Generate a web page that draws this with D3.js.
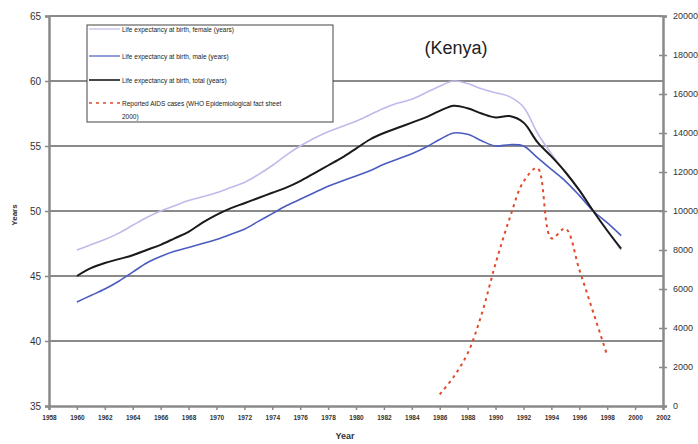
<!DOCTYPE html>
<html><head><meta charset="utf-8">
<script src="https://cdn.jsdelivr.net/npm/d3@7"></script>
<style>
html,body{margin:0;padding:0;background:#fff;}
svg{display:block;font-family:Arial,"Liberation Sans",sans-serif;}
</style></head>
<body><svg id="chart" width="698" height="444"></svg>
<script>
const years = d3.range(1960, 2000);
const female = [47.0,47.4,47.8,48.3,48.9,49.5,50.0,50.4,50.8,51.1,51.4,51.8,52.2,52.8,53.5,54.3,55.0,55.6,56.1,56.5,56.9,57.4,57.9,58.3,58.6,59.1,59.6,60.0,59.8,59.4,59.1,58.8,58.0,56.0,54.4,53.0,51.6,50.0,48.5,47.0];
const male = [43.0,43.5,44.0,44.6,45.3,46.0,46.5,46.9,47.2,47.5,47.8,48.2,48.6,49.2,49.8,50.4,50.9,51.4,51.9,52.3,52.7,53.1,53.6,54.0,54.4,54.9,55.5,56.0,55.9,55.4,55.0,55.1,55.0,54.1,53.2,52.3,51.2,50.0,49.1,48.1];
const total = [45.0,45.6,46.0,46.3,46.6,47.0,47.4,47.9,48.4,49.1,49.7,50.2,50.6,51.0,51.4,51.8,52.3,52.9,53.5,54.1,54.8,55.5,56.0,56.4,56.8,57.2,57.7,58.1,57.9,57.5,57.2,57.3,56.8,55.3,54.2,53.0,51.6,50.0,48.5,47.1];
const aidsYears = d3.range(1986, 1999);
const aids = [600,1500,2700,4700,7300,9600,11500,12200,8600,9100,7000,4800,2600];
const xTicks = d3.range(1958, 2003, 2);
const yLeftTicks = [35,40,45,50,55,60,65];
const yRightTicks = d3.range(0, 20001, 2000);
const legendLabels = ["Life expectancy at birth, female (years)","Life expectancy at birth, male (years)","Life expectancy at birth, total (years)","Reported AIDS cases (WHO Epidemiological fact sheet","2000)"];

const svg = d3.select("#chart");
const L = 49, R = 663, T = 16, B = 406;
const x = d3.scaleLinear().domain([1958, 2002]).range([L, R]);
const y = d3.scaleLinear().domain([35, 65]).range([B, T]);
const y2 = d3.scaleLinear().domain([0, 20000]).range([B, T]);
const axisCol = "#8a8a8a", txt = "#333";

// gridlines
svg.append("g").selectAll("line").data(yLeftTicks.slice(1)).join("line")
  .attr("x1", L).attr("x2", R).attr("y1", d => y(d)).attr("y2", d => y(d))
  .attr("stroke", axisCol).attr("stroke-width", 2);

// axes
const gl = svg.append("g").attr("transform", `translate(${L},0)`)
  .call(d3.axisLeft(y).tickValues(yLeftTicks).tickSize(4).tickPadding(4));
const gr = svg.append("g").attr("transform", `translate(${R},0)`)
  .call(d3.axisRight(y2).tickValues(yRightTicks).tickSize(4).tickPadding(6).tickFormat(d3.format("d")));
const gb = svg.append("g").attr("transform", `translate(0,${B})`)
  .call(d3.axisBottom(x).tickValues(xTicks).tickSize(4).tickPadding(5).tickFormat(d3.format("d")));
[gl, gr, gb].forEach(g => {
  g.select(".domain").attr("stroke", axisCol).attr("stroke-width", 2.5);
  g.selectAll(".tick line").attr("stroke", axisCol).attr("stroke-width", 1.5);
  g.selectAll(".tick text").attr("fill", txt).style("font-family", "Arial, sans-serif");
});
gl.selectAll(".tick text").style("font-size", "10px");
gr.selectAll(".tick text").style("font-size", "9px");
gr.selectAll(".tick line").attr("x1", -4);
gb.selectAll(".tick text").style("font-size", "6.5px").style("font-weight", "bold");

// axis titles
svg.append("text").attr("x", 345).attr("y", 439).attr("text-anchor", "middle")
  .style("font-size", "9px").style("font-weight", "bold").attr("fill", txt).text("Year");
svg.append("text").attr("transform", "translate(17,215) rotate(-90)").attr("text-anchor", "middle")
  .style("font-size", "8px").style("font-weight", "bold").attr("fill", txt).text("Years");

// lines
const line = d3.line().x(d => x(d[0])).y(d => y(d[1])).curve(d3.curveCatmullRom.alpha(0.5));
const line2 = d3.line().x(d => x(d[0])).y(d => y2(d[1])).curve(d3.curveCatmullRom.alpha(0.5));
const series = [
  {v: female, c: "#c2b9ea", w: 1.6},
  {v: male, c: "#4b5cc0", w: 1.6},
  {v: total, c: "#1a1a1a", w: 2}
];
series.forEach(s => {
  svg.append("path").datum(years.map((yr, i) => [yr, s.v[i]]))
    .attr("d", line).attr("fill", "none").attr("stroke", s.c).attr("stroke-width", s.w);
});
svg.append("path").datum(aidsYears.map((yr, i) => [yr, aids[i]]))
  .attr("d", line2).attr("fill", "none").attr("stroke", "#e04a2a").attr("stroke-width", 2)
  .attr("stroke-dasharray", "3,4");

// title
svg.append("text").attr("x", 456).attr("y", 54).attr("text-anchor", "middle")
  .style("font-size", "18px").attr("fill", "#222").text("(Kenya)");

// legend
const lg = svg.append("g");
lg.append("rect").attr("x", 87).attr("y", 25).attr("width", 246).attr("height", 97)
  .attr("fill", "#fff").attr("stroke", "#444").attr("stroke-width", 1);
const ly = [29, 56, 80, 103];
const lstyles = [
  {c: "#c2b9ea", w: 1.2, d: null},
  {c: "#4b5cc0", w: 1.2, d: null},
  {c: "#1a1a1a", w: 1.6, d: null},
  {c: "#e04a2a", w: 1.6, d: "3,4"}
];
ly.forEach((yy, i) => {
  lg.append("line").attr("x1", 89).attr("x2", 120).attr("y1", yy).attr("y2", yy)
    .attr("stroke", lstyles[i].c).attr("stroke-width", lstyles[i].w)
    .attr("stroke-dasharray", lstyles[i].d);
  lg.append("text").attr("x", 122).attr("y", yy + 2.5).style("font-size", "6.5px")
    .attr("fill", "#222").text(legendLabels[i]);
});
lg.append("text").attr("x", 122).attr("y", 119).style("font-size", "6.5px")
  .attr("fill", "#222").text(legendLabels[4]);
</script></body></html>
